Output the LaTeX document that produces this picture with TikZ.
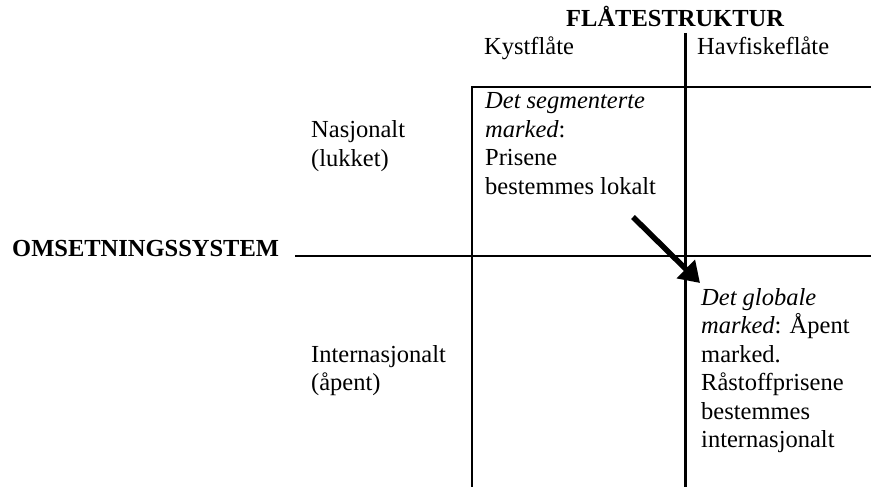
\documentclass[tikz,border=0pt]{standalone}
\usepackage{fontspec}
\setmainfont{Liberation Serif}
\usetikzlibrary{arrows.meta}
\tikzset{
  txt/.style={anchor=base west, inner sep=0pt, font=\fontsize{24.5}{28.5}\selectfont},
  thickline/.style={line width=2.2pt},
  thinline/.style={line width=1.2pt},
  bigarrow/.style={line width=5.5pt, -{Triangle[length=20pt,width=25pt]}}
}
\begin{document}
\begin{tikzpicture}[x=1pt,y=-1pt]
\useasboundingbox (0,0) rectangle (871,487);
% grid coordinates
\coordinate (vt) at (685.5,33);
\coordinate (vb) at (685.5,487);
\coordinate (hl) at (295,256);
\coordinate (hr) at (871,256);
\coordinate (tl) at (472,87);
\coordinate (tr) at (871,87);
\coordinate (lb) at (472,487);
\draw[thickline] (vt) -- (vb);
\draw[thickline] (hl) -- (hr);
\draw[thinline] (tr) -- (tl) -- (lb);
% headings
\node[txt, font=\fontsize{24.5}{28.5}\selectfont\bfseries] (flate) at (566,27) {FLÅTESTRUKTUR};
\node[txt] (kyst) at (484,55) {Kystflåte};
\node[txt] (havf) at (697,55) {Havfiskeflåte};
\node[txt, font=\fontsize{24.5}{28.5}\selectfont\bfseries] (oms) at (12,256) {OMSETNINGSSYSTEM};
% row labels
\node[txt] (nasj) at (311,138) {\begin{tabular}[t]{@{}l@{}}Nasjonalt\\(lukket)\end{tabular}};
\node[txt] (inter) at (311,362) {\begin{tabular}[t]{@{}l@{}}Internasjonalt\\(åpent)\end{tabular}};
% cells
\node[txt] (seg) at (485,109) {\begin{tabular}[t]{@{}l@{}}\textit{Det segmenterte}\\\textit{marked}:\\Prisene\\bestemmes lokalt\end{tabular}};
\node[txt] (glob) at (701,305) {\begin{tabular}[t]{@{}l@{}}\textit{Det globale}\\\textit{marked}: Åpent\\marked.\\Råstoffprisene\\bestemmes\\internasjonalt\end{tabular}};
% arrow
\coordinate (a1) at (633,217);
\coordinate (a2) at (700,283);
\draw[bigarrow] (a1) -- (a2);
\end{tikzpicture}
\end{document}
